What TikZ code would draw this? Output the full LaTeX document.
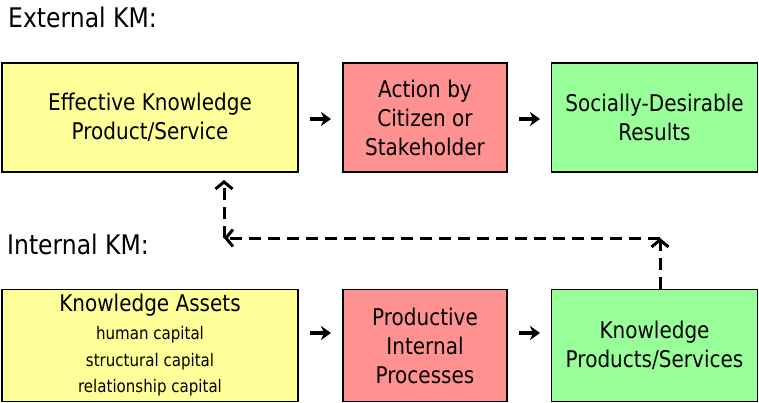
\documentclass[tikz,border=0pt]{standalone}
\usepackage{fontspec}
\setmainfont{DejaVu Sans}[FakeStretch=0.87]
\usetikzlibrary{arrows.meta}
\definecolor{boxyellow}{RGB}{255,255,153}
\definecolor{boxred}{RGB}{255,145,145}
\definecolor{boxgreen}{RGB}{153,255,153}
\newcommand\capsz{\fontsize{17.3}{20}\selectfont}
\begin{document}
\begin{tikzpicture}[x=1pt,y=-1pt,
  box/.style={draw=black, line width=1.5pt, inner sep=0pt, align=center,
    font=\fontsize{23}{29}\selectfont},
  flow/.style={line width=4pt, -{Stealth[length=10pt,width=14pt,inset=3pt]}},
  fb/.style={line width=3pt, dash pattern=on 12pt off 7pt,
    -{Straight Barb[length=7pt,width=17pt]}},
  title/.style={anchor=base west, inner sep=0pt, font=\fontsize{27}{30}\selectfont}]
\useasboundingbox (0,0) rectangle (759,403);
\node[title] (ext) at (8,28) {External KM:};
\node[title] (int) at (7,254) {Internal KM:};
% top row
\node[box, fill=boxyellow, minimum width=296pt, minimum height=109pt] (b1) at (150,117.5)
  {Effective Knowledge\\Product/Service};
\node[box, fill=boxred, minimum width=164pt, minimum height=109pt] (b2) at (425,117.5)
  {Action by\\Citizen or\\Stakeholder};
\node[box, fill=boxgreen, minimum width=206pt, minimum height=109pt] (b3) at (654.5,117.5)
  {Socially-Desirable\\Results};
% bottom row
\node[box, fill=boxyellow, minimum width=296pt, minimum height=112pt] (b4) at (150,345.5)
  {Knowledge Assets\\[-1pt]{\capsz human capital}\\[-2pt]{\capsz structural capital}\\[-3pt]{\capsz relationship capital}};
\node[box, fill=boxred, minimum width=164pt, minimum height=112pt] (b5) at (425,345.5)
  {Productive\\Internal\\Processes};
\node[box, fill=boxgreen, minimum width=206pt, minimum height=112pt] (b6) at (654.5,345.5)
  {Knowledge\\Products/Services};
% solid arrows
\coordinate (p1) at (310,119); \coordinate (p2) at (331,119);
\coordinate (p3) at (519,119); \coordinate (p4) at (540,119);
\coordinate (q1) at (310,333); \coordinate (q2) at (331,333);
\coordinate (q3) at (519,333); \coordinate (q4) at (540,333);
\draw[flow] (p1) -- (p2);
\draw[flow] (p3) -- (p4);
\draw[flow] (q1) -- (q2);
\draw[flow] (q3) -- (q4);
% dashed feedback
\coordinate (c1) at (660,238);
\coordinate (c2) at (224,238);
\coordinate (c3) at (224,180);
\draw[fb] (b6.north -| c1) -- (c1);
\draw[fb] (c1) -- (c2);
\draw[fb] (c2) -- (c3);
\end{tikzpicture}
\end{document}
